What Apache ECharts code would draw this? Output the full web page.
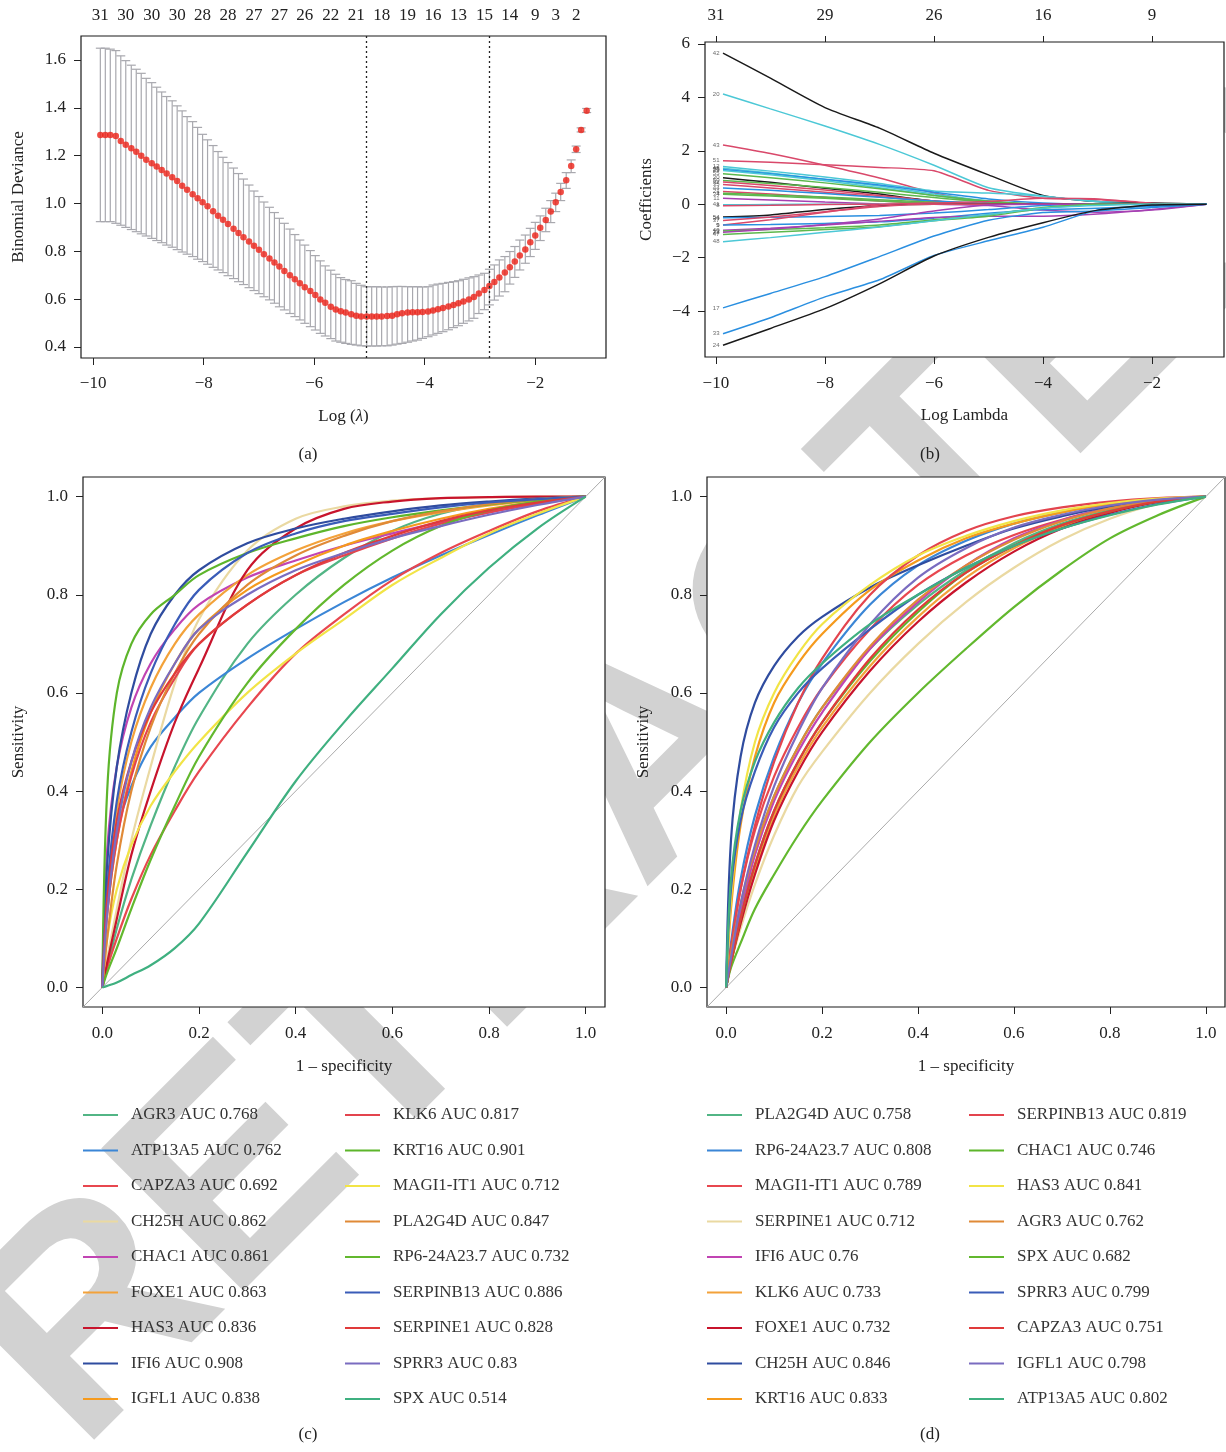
<!DOCTYPE html>
<html>
<head>
<meta charset="utf-8">
<script src="https://cdn.jsdelivr.net/npm/echarts@6/dist/echarts.min.js"></script>
<style>
  html, body { margin: 0; padding: 0; background: #fff; }
  #main { width: 1226px; height: 1452px; }
</style>
</head>
<body>
<div id="main"></div>
<script>
// ---- (a) cross-validated deviance ----
const cvLogLambda = [-9.87,-9.78,-9.69,-9.59,-9.50,-9.41,-9.31,-9.22,-9.13,-9.04,-8.94,-8.85,-8.76,-8.67,-8.57,-8.48,-8.39,-8.30,-8.20,-8.11,-8.02,-7.93,-7.83,-7.74,-7.65,-7.56,-7.46,-7.37,-7.28,-7.18,-7.09,-7.00,-6.91,-6.81,-6.72,-6.63,-6.54,-6.44,-6.35,-6.26,-6.17,-6.07,-5.98,-5.89,-5.80,-5.70,-5.61,-5.52,-5.43,-5.33,-5.24,-5.15,-5.05,-4.96,-4.87,-4.78,-4.68,-4.59,-4.50,-4.41,-4.31,-4.22,-4.13,-4.04,-3.94,-3.85,-3.76,-3.67,-3.57,-3.48,-3.39,-3.30,-3.20,-3.11,-3.02,-2.92,-2.83,-2.74,-2.65,-2.55,-2.46,-2.37,-2.28,-2.18,-2.09,-2.00,-1.91,-1.81,-1.72,-1.63,-1.54,-1.44,-1.35,-1.26,-1.17,-1.07];
const cvMean = [1.286,1.286,1.286,1.282,1.261,1.245,1.231,1.216,1.199,1.183,1.168,1.154,1.140,1.125,1.110,1.094,1.074,1.057,1.039,1.022,1.005,0.988,0.967,0.949,0.932,0.914,0.894,0.876,0.859,0.841,0.823,0.806,0.788,0.770,0.753,0.736,0.718,0.700,0.683,0.666,0.650,0.634,0.617,0.599,0.585,0.568,0.557,0.549,0.544,0.537,0.531,0.527,0.527,0.527,0.527,0.527,0.530,0.531,0.537,0.541,0.544,0.545,0.545,0.546,0.548,0.553,0.558,0.563,0.569,0.576,0.583,0.590,0.599,0.609,0.624,0.638,0.655,0.672,0.690,0.711,0.733,0.757,0.782,0.808,0.838,0.866,0.898,0.931,0.966,1.005,1.048,1.097,1.157,1.227,1.307,1.388];
const cvUpper = [1.649,1.649,1.645,1.639,1.617,1.597,1.578,1.561,1.544,1.523,1.505,1.486,1.466,1.447,1.429,1.408,1.387,1.363,1.342,1.318,1.289,1.266,1.242,1.217,1.193,1.171,1.148,1.125,1.102,1.077,1.052,1.029,1.006,0.984,0.962,0.938,0.917,0.893,0.870,0.847,0.826,0.803,0.782,0.760,0.739,0.721,0.704,0.690,0.682,0.677,0.666,0.658,0.652,0.652,0.652,0.651,0.651,0.652,0.653,0.653,0.652,0.652,0.652,0.651,0.652,0.659,0.663,0.666,0.670,0.673,0.677,0.683,0.689,0.694,0.701,0.708,0.725,0.743,0.764,0.778,0.799,0.820,0.847,0.868,0.896,0.921,0.948,0.980,1.012,1.043,1.084,1.129,1.182,1.240,1.316,1.397];
const cvLower = [0.924,0.924,0.924,0.917,0.909,0.900,0.891,0.882,0.873,0.864,0.854,0.845,0.836,0.826,0.817,0.807,0.797,0.788,0.778,0.767,0.757,0.746,0.733,0.722,0.711,0.698,0.686,0.673,0.661,0.648,0.636,0.623,0.610,0.597,0.583,0.568,0.555,0.540,0.527,0.513,0.499,0.485,0.471,0.457,0.446,0.435,0.425,0.420,0.415,0.411,0.408,0.405,0.404,0.404,0.404,0.405,0.405,0.408,0.412,0.415,0.420,0.425,0.429,0.436,0.443,0.450,0.457,0.464,0.472,0.481,0.489,0.499,0.509,0.520,0.540,0.556,0.576,0.596,0.613,0.631,0.663,0.691,0.722,0.750,0.778,0.808,0.845,0.882,0.920,0.966,1.012,1.063,1.129,1.213,1.299,1.380];
const cvNzeroPos = [-9.87,-9.41,-8.94,-8.48,-8.02,-7.56,-7.09,-6.63,-6.17,-5.70,-5.24,-4.78,-4.31,-3.85,-3.39,-2.92,-2.46,-2.00,-1.63,-1.26];
const cvNzero = ['31','30','30','30','28','28','27','27','26','22','21','18','19','16','13','15','14','9','3','2'];
const lambdaMin = -5.05;
const lambda1se = -2.83;

// ---- (b) coefficient paths ----
const pathLogLambda = [-9.87, -9, -8, -7, -6, -5, -4, -3, -2, -1];
const pathVars = ['42','20','43','51','12','45','26','39','55','30','50','32','35','44','21','3','34','11','41','8','54','36','37','9','5','40','13','22','47','48','17','33','24'];
const pathCoefs = [
  [5.66, 4.72, 3.62, 2.85, 1.91, 1.10, 0.33, 0.10, 0.03, 0],
  [4.13, 3.57, 2.93, 2.24, 1.46, 0.62, 0.30, 0.10, 0.01, 0],
  [2.22, 1.90, 1.46, 0.98, 0.42, 0.06, 0, 0, 0, 0],
  [1.63, 1.57, 1.48, 1.38, 1.25, 0.52, 0.22, 0.18, 0.03, 0],
  [1.41, 1.24, 1.02, 0.78, 0.50, 0.42, 0.30, 0.10, 0.01, 0],
  [1.35, 1.17, 0.93, 0.68, 0.38, 0.12, 0, 0, 0, 0],
  [1.30, 1.14, 0.94, 0.72, 0.45, 0.20, 0.05, 0, 0, 0],
  [1.26, 1.10, 0.88, 0.62, 0.33, 0.08, 0, 0, 0, 0],
  [1.14, 0.99, 0.80, 0.58, 0.33, 0.12, 0, 0, 0, 0],
  [0.99, 0.82, 0.60, 0.38, 0.12, 0, 0, 0, 0, 0],
  [0.89, 0.78, 0.63, 0.45, 0.25, 0.08, 0, 0, 0, 0],
  [0.83, 0.70, 0.53, 0.33, 0.12, 0.02, 0, 0, 0, 0],
  [0.74, 0.61, 0.45, 0.28, 0.10, 0, 0, 0, 0, 0],
  [0.61, 0.52, 0.40, 0.26, 0.12, 0.03, 0, 0, 0, 0],
  [0.48, 0.38, 0.25, 0.12, 0.02, 0, 0, 0, 0, 0],
  [0.41, 0.35, 0.27, 0.17, 0.07, 0, 0, 0, 0, 0],
  [0.37, 0.31, 0.22, 0.12, 0.04, 0, 0, 0, 0, 0],
  [0.22, 0.16, 0.08, 0.01, 0, -0.05, -0.22, -0.30, -0.22, 0],
  [-0.02, -0.01, 0, 0, 0, 0, 0, 0, 0, 0],
  [-0.06, -0.04, -0.01, 0, 0, 0, 0, 0, 0, 0],
  [-0.48, -0.40, -0.20, -0.05, 0, 0, 0, 0.02, 0.05, 0],
  [-0.51, -0.49, -0.46, -0.42, -0.33, -0.20, -0.05, 0, 0, 0],
  [-0.61, -0.48, -0.28, -0.08, 0, 0, 0, 0, 0, 0],
  [-0.78, -0.58, -0.30, -0.03, 0.05, 0.10, 0.22, 0.20, 0.04, 0],
  [-0.78, -0.76, -0.72, -0.66, -0.52, -0.34, -0.20, -0.15, -0.08, 0],
  [-0.97, -0.90, -0.78, -0.64, -0.50, -0.45, -0.45, -0.37, -0.20, 0],
  [-1.00, -0.95, -0.88, -0.78, -0.58, -0.40, -0.12, 0, 0, 0],
  [-1.05, -0.94, -0.76, -0.55, -0.25, -0.03, 0, 0, 0, 0],
  [-1.13, -1.05, -0.95, -0.84, -0.62, -0.45, -0.15, 0, 0, 0],
  [-1.40, -1.25, -1.05, -0.85, -0.62, -0.38, -0.15, -0.05, 0, 0],
  [-3.88, -3.34, -2.71, -1.96, -1.19, -0.60, -0.31, -0.25, -0.12, 0],
  [-4.85, -4.25, -3.47, -2.83, -1.92, -1.37, -0.86, -0.22, -0.05, 0],
  [-5.28, -4.65, -3.91, -2.98, -1.94, -1.24, -0.69, -0.22, -0.03, 0]
];
const dfTickPos = [-10, -8, -6, -4, -2];
const dfTickLabels = ['31', '29', '26', '16', '9'];

// ---- (c), (d) ROC curves ----
const rocFpr = [0, 0.01, 0.03, 0.06, 0.1, 0.15, 0.2, 0.3, 0.4, 0.5, 0.6, 0.7, 0.8, 0.9, 1];

const genesC = ['AGR3','ATP13A5','CAPZA3','CH25H','CHAC1','FOXE1','HAS3','IFI6','IGFL1','KLK6','KRT16','MAGI1-IT1','PLA2G4D','RP6-24A23.7','SERPINB13','SERPINE1','SPRR3','SPX'];
const aucC = [0.768, 0.762, 0.692, 0.862, 0.861, 0.863, 0.836, 0.908, 0.838, 0.817, 0.901, 0.712, 0.847, 0.732, 0.886, 0.828, 0.83, 0.514];
const tprC = [
  [0, 0.04, 0.12, 0.22, 0.33, 0.45, 0.55, 0.70, 0.80, 0.875, 0.93, 0.965, 0.985, 0.996, 1],
  [0, 0.20, 0.32, 0.41, 0.49, 0.55, 0.60, 0.67, 0.73, 0.785, 0.835, 0.88, 0.922, 0.962, 1],
  [0, 0.04, 0.10, 0.18, 0.27, 0.36, 0.44, 0.57, 0.68, 0.76, 0.83, 0.885, 0.93, 0.97, 1],
  [0, 0.06, 0.16, 0.30, 0.45, 0.62, 0.75, 0.89, 0.955, 0.98, 0.992, 0.997, 0.999, 1, 1],
  [0, 0.28, 0.45, 0.57, 0.66, 0.73, 0.78, 0.835, 0.87, 0.90, 0.925, 0.948, 0.968, 0.985, 1],
  [0, 0.18, 0.36, 0.50, 0.61, 0.70, 0.76, 0.84, 0.89, 0.925, 0.95, 0.968, 0.982, 0.993, 1],
  [0, 0.05, 0.14, 0.27, 0.40, 0.54, 0.65, 0.85, 0.935, 0.975, 0.99, 0.997, 0.999, 1, 1],
  [0, 0.25, 0.45, 0.60, 0.72, 0.80, 0.85, 0.905, 0.935, 0.955, 0.97, 0.982, 0.99, 0.996, 1],
  [0, 0.15, 0.30, 0.44, 0.56, 0.66, 0.73, 0.81, 0.86, 0.90, 0.93, 0.955, 0.975, 0.99, 1],
  [0, 0.15, 0.30, 0.43, 0.54, 0.63, 0.70, 0.78, 0.84, 0.88, 0.915, 0.945, 0.968, 0.986, 1],
  [0, 0.40, 0.60, 0.70, 0.76, 0.80, 0.84, 0.885, 0.915, 0.94, 0.958, 0.972, 0.984, 0.994, 1],
  [0, 0.10, 0.20, 0.29, 0.37, 0.44, 0.50, 0.60, 0.68, 0.75, 0.82, 0.875, 0.925, 0.965, 1],
  [0, 0.10, 0.25, 0.40, 0.53, 0.64, 0.72, 0.82, 0.88, 0.92, 0.95, 0.97, 0.985, 0.995, 1],
  [0, 0.03, 0.08, 0.16, 0.26, 0.37, 0.47, 0.62, 0.73, 0.82, 0.89, 0.94, 0.972, 0.99, 1],
  [0, 0.20, 0.38, 0.52, 0.64, 0.74, 0.81, 0.885, 0.925, 0.95, 0.965, 0.978, 0.988, 0.995, 1],
  [0, 0.18, 0.34, 0.46, 0.56, 0.64, 0.70, 0.78, 0.84, 0.885, 0.92, 0.95, 0.972, 0.988, 1],
  [0, 0.15, 0.32, 0.46, 0.57, 0.66, 0.73, 0.80, 0.85, 0.885, 0.915, 0.94, 0.963, 0.983, 1],
  [0, 0.003, 0.01, 0.025, 0.045, 0.08, 0.13, 0.275, 0.42, 0.54, 0.65, 0.76, 0.855, 0.935, 1]
];

const genesD = ['PLA2G4D','RP6-24A23.7','MAGI1-IT1','SERPINE1','IFI6','KLK6','FOXE1','CH25H','KRT16','SERPINB13','CHAC1','HAS3','AGR3','SPX','SPRR3','CAPZA3','IGFL1','ATP13A5'];
const aucD = [0.758, 0.808, 0.789, 0.712, 0.76, 0.733, 0.732, 0.846, 0.833, 0.819, 0.746, 0.841, 0.762, 0.682, 0.799, 0.751, 0.798, 0.802];
const tprD = [
  [0, 0.06, 0.16, 0.28, 0.39, 0.49, 0.57, 0.69, 0.78, 0.85, 0.905, 0.945, 0.972, 0.99, 1],
  [0, 0.09, 0.22, 0.35, 0.47, 0.58, 0.66, 0.78, 0.86, 0.91, 0.945, 0.968, 0.985, 0.995, 1],
  [0, 0.08, 0.20, 0.32, 0.43, 0.53, 0.61, 0.73, 0.82, 0.88, 0.922, 0.953, 0.976, 0.992, 1],
  [0, 0.05, 0.12, 0.21, 0.31, 0.41, 0.48, 0.60, 0.70, 0.785, 0.855, 0.912, 0.955, 0.985, 1],
  [0, 0.06, 0.15, 0.27, 0.38, 0.48, 0.56, 0.69, 0.785, 0.86, 0.915, 0.952, 0.977, 0.992, 1],
  [0, 0.05, 0.13, 0.24, 0.35, 0.45, 0.53, 0.655, 0.755, 0.835, 0.895, 0.938, 0.968, 0.989, 1],
  [0, 0.05, 0.13, 0.23, 0.34, 0.44, 0.52, 0.645, 0.745, 0.825, 0.888, 0.935, 0.967, 0.989, 1],
  [0, 0.30, 0.47, 0.58, 0.655, 0.715, 0.755, 0.815, 0.86, 0.90, 0.935, 0.96, 0.98, 0.993, 1],
  [0, 0.16, 0.33, 0.47, 0.58, 0.66, 0.72, 0.81, 0.87, 0.915, 0.945, 0.968, 0.985, 0.995, 1],
  [0, 0.08, 0.20, 0.33, 0.46, 0.58, 0.67, 0.80, 0.88, 0.93, 0.96, 0.978, 0.99, 0.997, 1],
  [0, 0.05, 0.14, 0.25, 0.36, 0.46, 0.54, 0.665, 0.765, 0.845, 0.90, 0.942, 0.97, 0.99, 1],
  [0, 0.18, 0.36, 0.50, 0.60, 0.68, 0.74, 0.82, 0.88, 0.92, 0.95, 0.972, 0.987, 0.996, 1],
  [0, 0.07, 0.17, 0.28, 0.39, 0.49, 0.57, 0.695, 0.79, 0.86, 0.912, 0.95, 0.976, 0.992, 1],
  [0, 0.04, 0.09, 0.16, 0.23, 0.31, 0.38, 0.50, 0.60, 0.69, 0.775, 0.85, 0.915, 0.962, 1],
  [0, 0.20, 0.34, 0.44, 0.53, 0.60, 0.65, 0.73, 0.80, 0.855, 0.90, 0.935, 0.963, 0.985, 1],
  [0, 0.05, 0.14, 0.25, 0.36, 0.46, 0.54, 0.67, 0.77, 0.845, 0.90, 0.942, 0.97, 0.99, 1],
  [0, 0.06, 0.17, 0.29, 0.41, 0.52, 0.61, 0.74, 0.835, 0.895, 0.937, 0.963, 0.982, 0.994, 1],
  [0, 0.22, 0.36, 0.46, 0.54, 0.61, 0.66, 0.74, 0.80, 0.855, 0.90, 0.935, 0.962, 0.984, 1]
];

// ---- styles ----
const FONT = '"Liberation Serif", "DejaVu Serif", serif';
const INK = '#222';
const PATH_PALETTE = { k: '#1a1a1a', r: '#d9486a', g: '#5cb84c', b: '#2a8fe0', c: '#4cc8d6', m: '#a640b2' };
const PATH_COLOR_KEYS = ['k','c','r','r','c','c','b','c','g','k','g','r','r','b','r','g','g','m','c','r','k','b','r','r','b','m','g','m','g','c','b','b','k'];
const ROC_COLORS = ['#52b585','#3b86d6','#e8474f','#ead9a2','#c144b3','#f3a23a','#c8142c','#2f4c9f','#f59a1d',
                    '#e3444e','#5db52b','#f2e446','#e08a37','#62b82e','#3a5cb8','#e03a3a','#7a6cc0','#3fb080'];

const minus = v => String(v).replace('-', '\u2212');
const oneDec = v => v.toFixed(1);
const labelStyle = { fontFamily: FONT, fontSize: 17, color: INK };
const nameStyle = { fontFamily: FONT, fontSize: 17, color: INK };

function valueAxis(o) {
  return Object.assign({
    type: 'value',
    nameLocation: 'middle',
    nameTextStyle: nameStyle,
    axisLine: { show: false, onZero: false },
    splitLine: { show: false }
  }, o);
}
function ticks(vals, len) {
  return { show: true, length: len || 7, customValues: vals, lineStyle: { color: INK, width: 1 } };
}
function labels(vals, fmt, margin) {
  return Object.assign({ customValues: vals, formatter: fmt, margin: margin }, labelStyle);
}

const unitTicks = [0, 0.2, 0.4, 0.6, 0.8, 1];
const lamTicks = [-10, -8, -6, -4, -2];

const xAxis = [
  valueAxis({ gridIndex: 0, position: 'bottom', min: -10.22, max: -0.72,
    name: 'Log ({i|λ})', nameGap: 50,
    nameTextStyle: Object.assign({}, nameStyle, { rich: { i: { fontFamily: FONT, fontSize: 17, fontStyle: 'italic', color: INK } } }),
    axisTick: ticks(lamTicks), axisLabel: labels(lamTicks, minus, 17) }),
  valueAxis({ gridIndex: 0, position: 'top', min: -10.22, max: -0.72,
    axisTick: { show: false },
    axisLabel: labels(cvNzeroPos, v => {
      let best = 0;
      cvNzeroPos.forEach((p, k) => { if (Math.abs(p - v) < Math.abs(cvNzeroPos[best] - v)) best = k; });
      return cvNzero[best];
    }, 12) }),
  valueAxis({ gridIndex: 1, position: 'bottom', min: -10.2, max: -0.68,
    name: 'Log Lambda', nameGap: 50,
    axisTick: ticks(lamTicks), axisLabel: labels(lamTicks, minus, 18) }),
  valueAxis({ gridIndex: 1, position: 'top', min: -10.2, max: -0.68,
    axisTick: ticks(dfTickPos, 6),
    axisLabel: labels(dfTickPos, v => dfTickLabels[dfTickPos.indexOf(v)], 18) }),
  valueAxis({ gridIndex: 2, position: 'bottom', min: -0.04, max: 1.04,
    name: '1 \u2013 specificity', nameGap: 51,
    axisTick: ticks(unitTicks), axisLabel: labels(unitTicks, oneDec, 18) }),
  valueAxis({ gridIndex: 3, position: 'bottom', min: -0.04, max: 1.04,
    name: '1 \u2013 specificity', nameGap: 51,
    axisTick: ticks(unitTicks), axisLabel: labels(unitTicks, oneDec, 18) })
];

const yAxis = [
  valueAxis({ gridIndex: 0, position: 'left', min: 0.354, max: 1.70, name: 'Binomial Deviance', nameGap: 54,
    axisTick: ticks([0.4, 0.6, 0.8, 1.0, 1.2, 1.4, 1.6]),
    axisLabel: labels([0.4, 0.6, 0.8, 1.0, 1.2, 1.4, 1.6], oneDec, 15) }),
  valueAxis({ gridIndex: 1, position: 'left', min: -5.72, max: 6.075, name: 'Coefficients', nameGap: 50,
    axisTick: ticks([-4, -2, 0, 2, 4, 6]),
    axisLabel: labels([-4, -2, 0, 2, 4, 6], minus, 15) }),
  valueAxis({ gridIndex: 2, position: 'left', min: -0.04, max: 1.04, name: 'Sensitivity', nameGap: 56,
    axisTick: ticks(unitTicks), axisLabel: labels(unitTicks, oneDec, 15) }),
  valueAxis({ gridIndex: 3, position: 'left', min: -0.04, max: 1.04, name: 'Sensitivity', nameGap: 55,
    axisTick: ticks(unitTicks), axisLabel: labels(unitTicks, oneDec, 15) })
];

const frame = { show: true, borderColor: '#1a1a1a', borderWidth: 1.2, backgroundColor: '#fff' };
const grid = [
  Object.assign({ left: 81, top: 36, width: 525, height: 322 }, frame),
  Object.assign({ left: 705, top: 42, width: 519, height: 315 }, frame),
  Object.assign({ left: 83, top: 477, width: 522, height: 530 }, frame),
  Object.assign({ left: 707, top: 477, width: 518, height: 530 }, frame)
];

const series = [];

// (a) error bars + mean points
series.push({
  type: 'custom', xAxisIndex: 0, yAxisIndex: 0, z: 2,
  data: cvLogLambda.map((x, i) => [x, cvLower[i], cvUpper[i]]),
  encode: { x: 0, y: [1, 2] },
  renderItem: (params, api) => {
    const x = api.value(0);
    const lo = api.coord([x, api.value(1)]);
    const hi = api.coord([x, api.value(2)]);
    const w = 4.5;
    const st = { stroke: '#a8a8ae', lineWidth: 1.2 };
    return {
      type: 'group',
      children: [
        { type: 'line', shape: { x1: lo[0], y1: lo[1], x2: hi[0], y2: hi[1] }, style: st },
        { type: 'line', shape: { x1: hi[0] - w, y1: hi[1], x2: hi[0] + w, y2: hi[1] }, style: st },
        { type: 'line', shape: { x1: lo[0] - w, y1: lo[1], x2: lo[0] + w, y2: lo[1] }, style: st }
      ]
    };
  }
});
series.push({
  type: 'scatter', xAxisIndex: 0, yAxisIndex: 0, z: 4,
  data: cvLogLambda.map((x, i) => [x, cvMean[i]]),
  symbolSize: 6.5,
  itemStyle: { color: '#ec2016' },
  markLine: {
    silent: true, symbol: 'none', label: { show: false },
    lineStyle: { type: [2, 3], color: '#222', width: 1.3 },
    data: [{ xAxis: lambdaMin }, { xAxis: lambda1se }]
  }
});

// (b) coefficient paths
pathCoefs.forEach((row, k) => {
  const col = PATH_PALETTE[PATH_COLOR_KEYS[k]];
  series.push({
    name: 'coef ' + pathVars[k],
    type: 'line', xAxisIndex: 2, yAxisIndex: 1, z: 3,
    data: pathLogLambda.map((x, j) => [x, row[j]]),
    showSymbol: false, symbol: 'none', smooth: 0.2,
    lineStyle: { width: 1.5, color: col },
    itemStyle: { color: col }
  });
});
series.push({
  type: 'scatter', xAxisIndex: 2, yAxisIndex: 1, z: 5, symbolSize: 1,
  itemStyle: { color: 'rgba(0,0,0,0)' },
  data: pathCoefs.map((row, k) => [pathLogLambda[0], row[0], pathVars[k]]),
  label: {
    show: true, position: 'left', distance: 3,
    formatter: p => p.data[2],
    fontSize: 6, color: '#444', fontFamily: 'Liberation Sans, sans-serif'
  }
});

// (c), (d) ROC curves
[[genesC, aucC, tprC, 4, 2], [genesD, aucD, tprD, 5, 3]].forEach(([genes, aucs, tprs, xi, yi]) => {
  series.push({
    type: 'line', xAxisIndex: xi, yAxisIndex: yi, z: 2, silent: true,
    data: [[-0.04, -0.04], [1.04, 1.04]],
    showSymbol: false, symbol: 'none',
    lineStyle: { width: 1, color: '#aaaaaa' }
  });
  genes.forEach((g, k) => {
    series.push({
      name: g + ' AUC ' + aucs[k],
      type: 'line', xAxisIndex: xi, yAxisIndex: yi, z: 3,
      data: rocFpr.map((f, j) => [f, tprs[k][j]]),
      smooth: 0.35,
      showSymbol: false, symbol: 'none',
      lineStyle: { width: 2.2, color: ROC_COLORS[k] },
      itemStyle: { color: ROC_COLORS[k] }
    });
  });
});

function legendCol(names, left) {
  return {
    data: names, left: left, top: 1105, orient: 'vertical', padding: 0,
    itemGap: 15.5, itemWidth: 35, itemHeight: 2, icon: 'rect',
    selectedMode: false,
    textStyle: { fontFamily: FONT, fontSize: 17, color: '#333', lineHeight: 20, padding: [0, 0, 0, 8] }
  };
}
const namesC = genesC.map((g, k) => g + ' AUC ' + aucC[k]);
const namesD = genesD.map((g, k) => g + ' AUC ' + aucD[k]);

const panelLabel = (t, x, y) => ({
  type: 'text', x: x, y: y, z: 10,
  style: { text: t, font: '17px ' + FONT, fill: INK, textAlign: 'center', textVerticalAlign: 'middle', align: 'center', verticalAlign: 'middle' }
});

const option = {
  animation: false,
  backgroundColor: '#fff',
  grid: grid,
  xAxis: xAxis,
  yAxis: yAxis,
  legend: [legendCol(namesC.slice(0, 9), 83), legendCol(namesC.slice(9), 345),
           legendCol(namesD.slice(0, 9), 707), legendCol(namesD.slice(9), 969)],
  graphic: [
    {
      type: 'text', x: 660, y: 760, rotation: Math.PI / 4, z: -5,
      style: {
        text: 'RETRACTED', fill: '#d2d2d2',
        font: 'bold 292px "Liberation Sans", Arial, sans-serif',
        textAlign: 'center', textVerticalAlign: 'middle', align: 'center', verticalAlign: 'middle'
      }
    },
    panelLabel('(a)', 308, 455),
    panelLabel('(b)', 930, 455),
    panelLabel('(c)', 308, 1435),
    panelLabel('(d)', 930, 1435)
  ],
  series: series
};

const chart = echarts.init(document.getElementById('main'), null, { renderer: 'canvas' });
chart.setOption(option);
</script>
</body>
</html>
